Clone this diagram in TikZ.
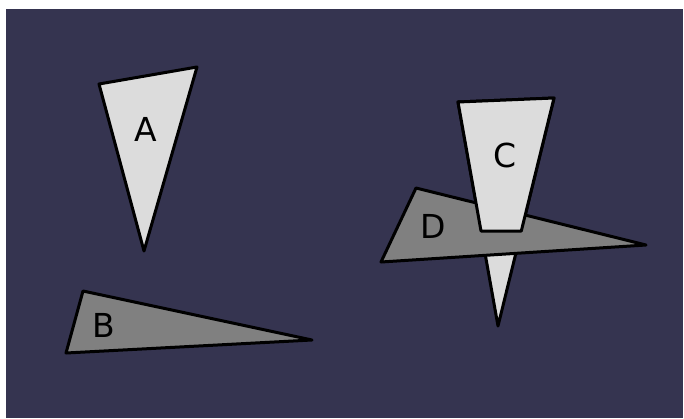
\documentclass[tikz,border=0pt]{standalone}
\usepackage{fontspec}
\setmainfont{DejaVu Sans}
\definecolor{bgcol}{RGB}{53,52,80}
\definecolor{lightfill}{RGB}{220,220,220}
\definecolor{darkfill}{RGB}{128,128,128}
\begin{document}
\begin{tikzpicture}[x=1pt,y=-1pt,
  lightshape/.style={fill=lightfill,draw=black,line width=3pt,line join=round},
  darkshape/.style={fill=darkfill,draw=black,line width=3pt,line join=round},
  lbl/.style={font=\fontsize{33}{33}\selectfont,text=black,inner sep=0pt}]
\useasboundingbox (0,0) rectangle (684,418);
\fill[white] (0,0) rectangle (684,418);
\fill[bgcol] (6,9) rectangle (683,418);
% A
\coordinate (a1) at (99,84);
\coordinate (a2) at (197,67);
\coordinate (a3) at (144,251);
\draw[lightshape] (a1) -- (a2) -- (a3) -- cycle;
\node[lbl] (la) at (146,129) {A};
% B
\coordinate (b1) at (83,291);
\coordinate (b2) at (312,340);
\coordinate (b3) at (66,353);
\draw[darkshape] (b1) -- (b2) -- (b3) -- cycle;
\node[lbl] (lb) at (104,325) {B};
% C (full)
\coordinate (c1) at (458,102);
\coordinate (c2) at (554,98);
\coordinate (c3) at (498,326);
\coordinate (c4) at (521.3,231);
\coordinate (c5) at (481,231);
\draw[lightshape] (c1) -- (c2) -- (c3) -- cycle;
% D
\coordinate (d1) at (416,188);
\coordinate (d2) at (646,245);
\coordinate (d3) at (381,262);
\draw[darkshape] (d1) -- (d2) -- (d3) -- cycle;
\node[lbl] (ld) at (433,226) {D};
% C upper part over D
\draw[lightshape] (c1) -- (c2) -- (c4) -- (c5) -- cycle;
\node[lbl] (lc) at (505,155) {C};
\end{tikzpicture}
\end{document}
